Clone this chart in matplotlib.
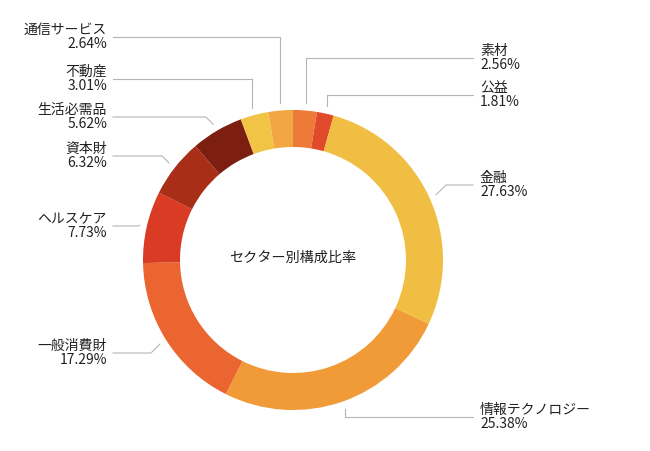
import matplotlib
matplotlib.use("Agg")
import matplotlib.pyplot as plt
import numpy as np

plt.rcParams['font.family'] = ['Noto Sans CJK JP', 'DejaVu Sans']

# data, clockwise from the top
sectors = ['素材', '公益', '金融', '情報テクノロジー', '一般消費財',
           'ヘルスケア', '資本財', '生活必需品', '不動産', '通信サービス']
shares = [2.56, 1.81, 27.63, 25.38, 17.29, 7.73, 6.32, 5.62, 3.01, 2.64]
colors = ['#EE7A38', '#E24A2C', '#F0BE42', '#F09A38', '#EA6530',
          '#DA3B25', '#A82E18', '#7C1E10', '#F1C445', '#F2A744']

# label layout (pixel y of the leader line, elbow style)
label_y = [58, 95, 185, 417, 353, 226, 156, 117, 79, 37]
elbow = ['v', 'v', 'd', 'v', 'd', 'd', 'd', 'd', 'v', 'v']

W, H = 650, 451
cx, cy, R, ring = 293, H - 260, 150, 37

fig = plt.figure(figsize=(W / 100, H / 100), dpi=100)
ax = fig.add_axes([0, 0, 1, 1])

wedges, _ = ax.pie(shares, colors=colors, startangle=90, counterclock=False,
                   radius=R, center=(cx, cy), frame=True,
                   wedgeprops=dict(width=ring, edgecolor='none'))
ax.set_xlim(0, W)
ax.set_ylim(0, H)
ax.set_aspect('equal')
ax.axis('off')

ax.text(cx, cy + 2, 'セクター別構成比率', ha='center', va='center',
        fontsize=10.2, color='#222222')

line_col = '#b5b5b5'
for w, name, val, ly, kind in zip(wedges, sectors, shares, label_y, elbow):
    ang = np.deg2rad((w.theta1 + w.theta2) / 2)
    sx = cx + R * 1.05 * np.cos(ang)
    sy = cy + R * 1.05 * np.sin(ang)
    ey = H - ly
    right = np.cos(ang) > 0
    if kind == 'v':
        ex = sx
    else:
        ex = sx + (1 if right else -1) * abs(ey - sy)
    if right:
        ax.plot([sx, ex, 473], [sy, ey, ey], color=line_col, lw=0.8)
        ax.text(480, ey, f'{name}\n{val:.2f}%', ha='left', va='center',
                fontsize=10, color='#222222', linespacing=1.0)
    else:
        ax.plot([sx, ex, 113], [sy, ey, ey], color=line_col, lw=0.8)
        ax.text(107, ey, f'{name}\n{val:.2f}%', ha='right', va='center',
                fontsize=10, color='#222222', linespacing=1.0,
                multialignment='right')

fig.savefig('out.png', dpi=100, facecolor='white')
